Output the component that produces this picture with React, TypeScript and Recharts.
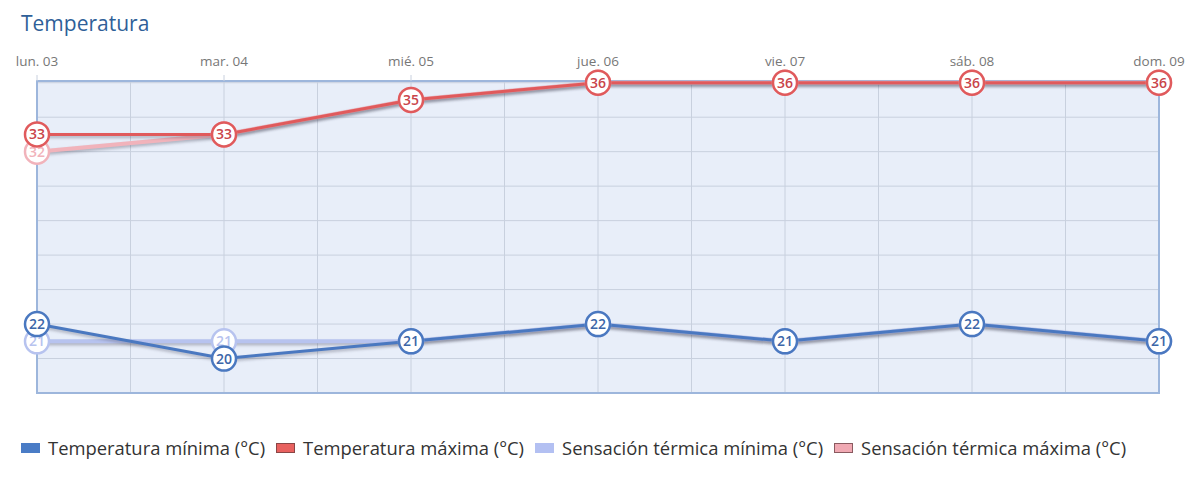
import React from 'react'
import {
  LineChart, Line, XAxis, YAxis, CartesianGrid, ReferenceArea,
} from 'recharts'

const DAYS = ['lun. 03', 'mar. 04', 'mié. 05', 'jue. 06', 'vie. 07', 'sáb. 08', 'dom. 09']
const TEMP_MIN = [22, 20, 21, 22, 21, 22, 21]
const TEMP_MAX = [33, 33, 35, 36, 36, 36, 36]
const SENS_MIN = [21, 21, 21, 22, 21, 22, 21]
const SENS_MAX = [32, 33, 35, 36, 36, 36, 36]
const Y_TICKS = [18, 20, 22, 24, 26, 28, 30, 32, 34, 36]

const SERIES = [
  { key: 'sensMin', name: 'Sensación térmica mínima (°C)', stroke: '#b7c3ef', text: '#b7c3ef', width: 4 },
  { key: 'sensMax', name: 'Sensación térmica máxima (°C)', stroke: '#f1b3bb', text: '#f1b3bb', width: 4 },
  { key: 'tempMin', name: 'Temperatura mínima (°C)', stroke: '#4a78c0', text: '#3c66a8', width: 3 },
  { key: 'tempMax', name: 'Temperatura máxima (°C)', stroke: '#e05a5c', text: '#c9444a', width: 3 },
]

const LEGEND = [
  { name: 'Temperatura mínima (°C)', fill: '#4a7cc6', border: '#4a7cc6' },
  { name: 'Temperatura máxima (°C)', fill: '#e8615f', border: '#8a4646' },
  { name: 'Sensación térmica mínima (°C)', fill: '#b3c0f2', border: '#b3c0f2' },
  { name: 'Sensación térmica máxima (°C)', fill: '#f0a9b3', border: '#8a5a60' },
]

const data = DAYS.map((day, i) => ({
  day,
  tempMin: TEMP_MIN[i],
  tempMax: TEMP_MAX[i],
  sensMin: SENS_MIN[i],
  sensMax: SENS_MAX[i],
}))

const FONT = '"Open Sans", "Noto Sans", sans-serif'

const makeDot = (key: string, stroke: string, text: string) => (props: any) => {
  const { cx, cy, payload, index } = props
  if (cx == null || cy == null) return <g key={`${key}-${index}`} />
  return (
    <g key={`${key}-${index}`}>
      <circle cx={cx} cy={cy} r={12} fill="#fff" stroke={stroke} strokeWidth={2.5} />
      <text x={cx} y={cy} dy={5} textAnchor="middle" fontSize={14} fontWeight={600}
        fontFamily={FONT} fill={text}>
        {payload[key]}
      </text>
    </g>
  )
}

export default function App() {
  return (
    <div style={{ position: 'absolute', left: 0, top: 0, width: 1200, height: 485, background: '#fff', fontFamily: FONT }}>
      <style>{`.recharts-line-curve { filter: drop-shadow(0px 2px 1.5px rgba(60,60,80,0.35)); }`}</style>
      <div style={{ position: 'absolute', left: 21, top: 9, fontSize: 21, color: '#2f5f98' }}>Temperatura</div>
      <div style={{ position: 'absolute', left: 0, top: 0 }}>
        <LineChart width={1200} height={400} data={data} margin={{ top: 51, right: 41, bottom: 7, left: 37 }}>
          <CartesianGrid
            fill="#e8eef9"
            stroke="#c8d0de"
            strokeWidth={1}
            verticalCoordinatesGenerator={({ offset }: any) =>
              Array.from({ length: 13 }, (_, i) => offset.left + (offset.width * i) / 12)}
          />
          <ReferenceArea x1={DAYS[0]} x2={DAYS[DAYS.length - 1]} y1={18} y2={36.1}
            fill="none" stroke="#9db6dc" strokeWidth={2} strokeOpacity={1} />
          <XAxis
            dataKey="day"
            orientation="top"
            axisLine={false}
            tickLine={{ stroke: '#c8d0de' }}
            tickSize={6}
            tickMargin={9}
            tick={{ fill: '#777', fontSize: 13.5, fontFamily: FONT }}
            interval={0}
          />
          <YAxis hide domain={[18, 36.1]} ticks={Y_TICKS} />
          {SERIES.map((s) => (
            <Line
              key={s.key}
              dataKey={s.key}
              name={s.name}
              type="linear"
              stroke={s.stroke}
              strokeWidth={s.width}
              dot={makeDot(s.key, s.stroke, s.text)}
              activeDot={false}
              isAnimationActive={false}
            />
          ))}
        </LineChart>
      </div>
      <div style={{ position: 'absolute', left: 21, top: 435, display: 'flex', alignItems: 'center', fontSize: 18.4, color: '#333', whiteSpace: 'nowrap' }}>
        {LEGEND.map((l) => (
          <div key={l.name} style={{ display: 'flex', alignItems: 'center', marginRight: 11 }}>
            <span style={{ display: 'inline-block', width: 17, height: 8, background: l.fill, border: `1px solid ${l.border}`, marginRight: 8 }} />
            <span>{l.name}</span>
          </div>
        ))}
      </div>
    </div>
  )
}
